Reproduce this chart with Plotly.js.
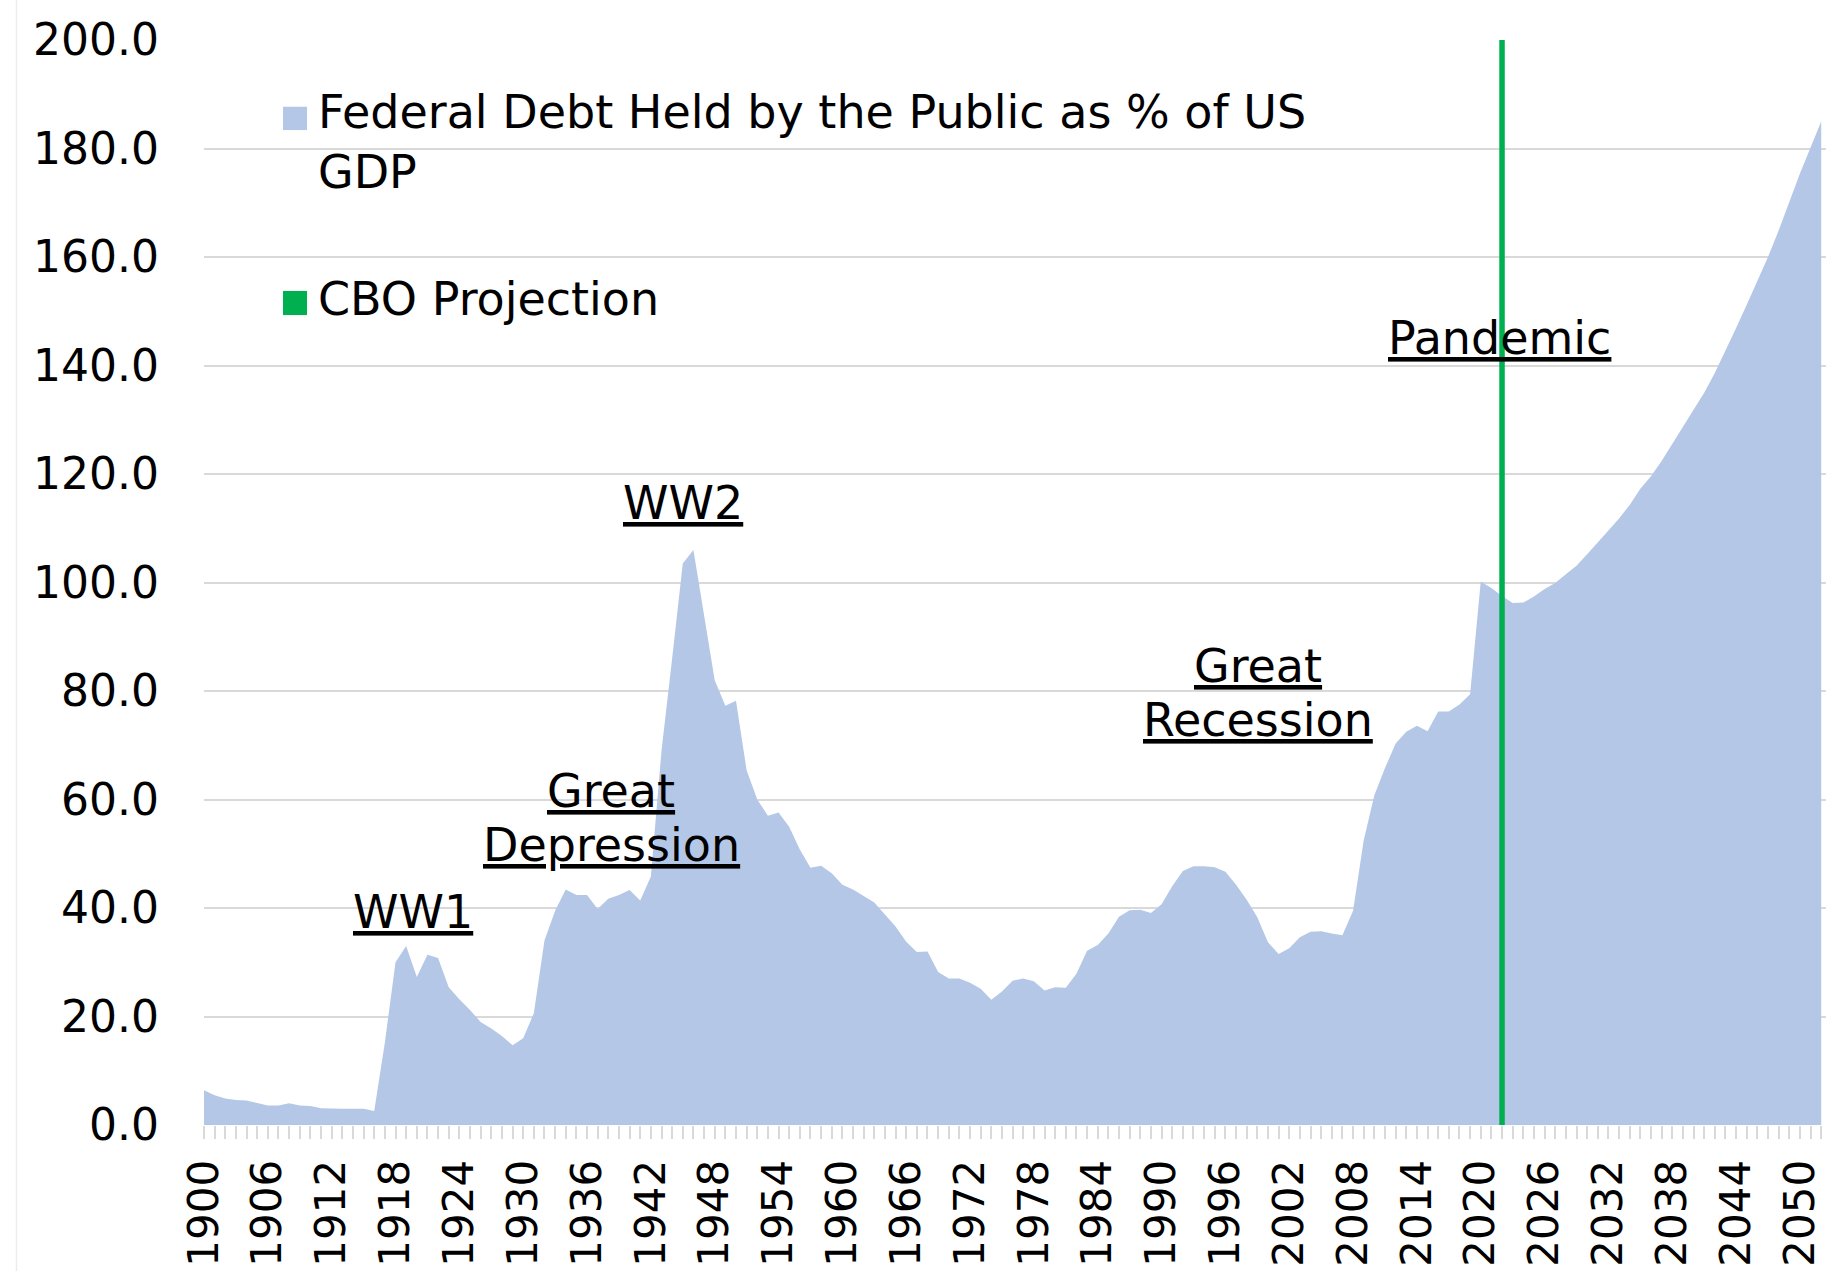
<!DOCTYPE html>
<html>
<head>
<meta charset="utf-8">
<script src="https://cdn.plot.ly/plotly-3.0.1.min.js"></script>
<style>
html,body{margin:0;padding:0;background:#ffffff;}
#chart{width:1847px;height:1271px;}
</style>
</head>
<body>
<div id="chart"></div>
<script>
// ---------------- DATA ----------------
const years = [
1900,1901,1902,1903,1904,1905,1906,1907,1908,1909,
1910,1911,1912,1913,1914,1915,1916,1917,1918,1919,
1920,1921,1922,1923,1924,1925,1926,1927,1928,1929,
1930,1931,1932,1933,1934,1935,1936,1937,1938,1939,
1940,1941,1942,1943,1944,1945,1946,1947,1948,1949,
1950,1951,1952,1953,1954,1955,1956,1957,1958,1959,
1960,1961,1962,1963,1964,1965,1966,1967,1968,1969,
1970,1971,1972,1973,1974,1975,1976,1977,1978,1979,
1980,1981,1982,1983,1984,1985,1986,1987,1988,1989,
1990,1991,1992,1993,1994,1995,1996,1997,1998,1999,
2000,2001,2002,2003,2004,2005,2006,2007,2008,2009,
2010,2011,2012,2013,2014,2015,2016,2017,2018,2019,
2020,2021,2022,2023,2024,2025,2026,2027,2028,2029,
2030,2031,2032,2033,2034,2035,2036,2037,2038,2039,
2040,2041,2042,2043,2044,2045,2046,2047,2048,2049,
2050,2051,2052
];

// Federal debt held by the public, % of GDP
const debt1900to1949 = [
6.4,5.5,4.9,4.6,4.5,4.0,3.6,3.6,4.0,3.6,
3.5,3.1,3.0,3.0,3.0,3.0,2.6,15.2,30.0,33.0,
27.3,31.4,30.8,25.4,23.2,21.2,19.0,17.8,16.4,14.7,
16.0,20.6,34.0,39.5,43.4,42.4,42.4,39.8,41.7,42.4,
43.3,41.4,45.8,69.0,86.0,103.5,106.0,93.6,82.0,77.3
];
const debt1950to1999 = [
78.2,65.4,60.0,57.0,57.6,55.0,50.8,47.4,47.8,46.4,
44.3,43.4,42.2,41.0,38.8,36.6,33.8,31.9,32.0,28.2,
27.0,27.0,26.2,25.1,23.1,24.6,26.6,27.0,26.5,24.8,
25.4,25.3,27.9,32.1,33.2,35.3,38.4,39.6,39.7,39.1,
40.7,44.0,46.8,47.7,47.7,47.5,46.7,44.3,41.5,38.3
];
const debt2000to2052 = [
33.7,31.5,32.6,34.6,35.6,35.7,35.3,35.0,39.5,52.5,
60.8,65.8,70.3,72.5,73.6,72.6,76.2,76.2,77.5,79.4,
100.2,99.0,97.5,96.2,96.3,97.4,98.8,99.9,101.5,103.1,
105.2,107.5,109.6,111.8,114.3,117.3,119.6,122.4,125.5,128.6,
131.8,135.0,138.6,142.6,146.9,151.2,155.5,160.0,164.9,170.2,
175.4,180.2,185.0
];
const debtPctGDP = debt1900to1949.concat(debt1950to1999, debt2000to2052);

// CBO projection marker (start year of projection, spans full axis)
const cboProjectionYear = [2022, 2022];
const cboProjectionSpan = [0, 200];

const seriesNames = ['Federal Debt Held by the Public as % of US GDP', 'CBO Projection'];
const eventLabels = ['WW1', 'Great', 'Depression', 'WW2', 'Great', 'Recession', 'Pandemic'];

const xTickYears = [1900,1906,1912,1918,1924,1930,1936,1942,1948,1954,1960,1966,1972,1978,
  1984,1990,1996,2002,2008,2014,2020,2026,2032,2038,2044,2050];
const yTickValues = [0,20,40,60,80,100,120,140,160,180,200];
const yTickLabels = ['0.0','20.0','40.0','60.0','80.0','100.0','120.0','140.0','160.0','180.0','200.0'];

// ---------------- STYLE / LAYOUT ----------------
const FONT = 'DejaVu Sans';
const AREA_COLOR = '#B4C7E7';
const GREEN = '#00B050';
const GRID = '#d9d9d9';

// label placement (years / values on the chart axes)
const eventPos = [
  {x: 1919.6, y: 39.2},
  {x: 1938.3, y: 61.5},
  {x: 1938.3, y: 51.6},
  {x: 1945.05, y: 114.6},
  {x: 1999.1, y: 84.6},
  {x: 1999.05, y: 74.6},
  {x: 2021.75, y: 145.0}
];

const traces = [
  {
    type: 'scatter', mode: 'lines',
    x: years, y: debtPctGDP,
    name: seriesNames[0],
    fill: 'tozeroy', fillcolor: AREA_COLOR,
    line: {width: 0, color: AREA_COLOR},
    hoverinfo: 'skip', showlegend: false
  },
  {
    type: 'scatter', mode: 'lines',
    x: cboProjectionYear, y: cboProjectionSpan,
    name: seriesNames[1],
    line: {width: 5.5, color: GREEN},
    hoverinfo: 'skip', showlegend: false
  }
];

const annotations = eventLabels.map((t, i) => ({
  x: eventPos[i].x, y: eventPos[i].y, xref: 'x', yref: 'y',
  text: '<u>' + t + '</u>', showarrow: false,
  xanchor: 'center', yanchor: 'middle', borderpad: 0,
  font: {family: FONT, size: 46, color: '#000000'}
}));

// legend (drawn as text + swatches)
annotations.push({
  xref: 'paper', yref: 'paper', x: 0.069, y: 0.9064,
  xanchor: 'left', yanchor: 'middle', align: 'left', showarrow: false,
  text: 'Federal Debt Held by the Public as % of US<br>GDP',
  font: {family: FONT, size: 46, color: '#000000'}
});
annotations.push({
  xref: 'paper', yref: 'paper', x: 0.069, y: 0.7617,
  xanchor: 'left', yanchor: 'middle', align: 'left', showarrow: false,
  text: seriesNames[1],
  font: {family: FONT, size: 46, color: '#000000'}
});

const shapes = [
  {type: 'rect', xref: 'paper', yref: 'paper', x0: 0.0487, x1: 0.0635, y0: 0.917, y1: 0.9385,
   fillcolor: AREA_COLOR, line: {width: 0}},
  {type: 'rect', xref: 'paper', yref: 'paper', x0: 0.0487, x1: 0.0635, y0: 0.7465, y1: 0.7687,
   fillcolor: GREEN, line: {width: 0}},
  {type: 'line', xref: 'paper', yref: 'paper', x0: -0.1156, x1: -0.1156, y0: -0.14, y1: 1.04,
   line: {width: 1.5, color: '#ececec'}}
];

const layout = {
  width: 1847, height: 1271,
  margin: {l: 204, r: 21, t: 40, b: 146, pad: 0},
  paper_bgcolor: '#ffffff', plot_bgcolor: '#ffffff',
  font: {family: FONT, size: 44, color: '#000000'},
  showlegend: false,
  xaxis: {
    type: 'linear', range: [1900, 2052.45], fixedrange: true,
    showgrid: false, zeroline: false, showline: false,
    tickmode: 'array', tickvals: xTickYears, ticktext: xTickYears.map(String),
    tickangle: -90, ticks: 'outside', ticklen: 13, tickwidth: 2, tickcolor: GRID,
    ticklabelstandoff: 4,
    tickfont: {family: FONT, size: 42, color: '#000000'},
    minor: {tickmode: 'linear', tick0: 1900, dtick: 1, ticks: 'outside', ticklen: 13,
            tickwidth: 2, tickcolor: GRID, showgrid: false},
    automargin: false
  },
  yaxis: {
    range: [0, 200], fixedrange: true,
    tickmode: 'array', tickvals: yTickValues, ticktext: yTickLabels,
    showgrid: true, gridcolor: GRID, gridwidth: 2,
    zeroline: false, showline: false, ticks: '',
    ticklabelstandoff: 44,
    tickfont: {family: FONT, size: 44, color: '#000000'},
    automargin: false
  },
  annotations: annotations,
  shapes: shapes
};

Plotly.newPlot('chart', traces, layout, {displayModeBar: false, staticPlot: true});
</script>
</body>
</html>
